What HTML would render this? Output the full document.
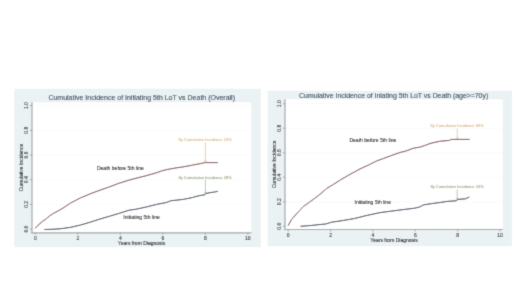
<!DOCTYPE html>
<html><head><meta charset="utf-8">
<style>
html,body{margin:0;padding:0;background:#fff;}
body{width:520px;height:292px;overflow:hidden;}
svg{display:block;font-family:"Liberation Sans",sans-serif;}
</style></head>
<body>
<svg width="520" height="292" viewBox="0 0 520 292">
<defs><filter id="soft" x="0" y="0" width="520" height="292" filterUnits="userSpaceOnUse"><feConvolveMatrix order="3" kernelMatrix="0.0192 0.1001 0.0192 0.1001 0.5227 0.1001 0.0192 0.1001 0.0192" preserveAlpha="false" edgeMode="duplicate"/></filter></defs>
<g filter="url(#soft)">
<rect x="0" y="0" width="520" height="292" fill="#ffffff"/>
<rect x="14.3" y="88.8" width="246.50" height="158.30" fill="#eaf2f3"/>
<rect x="32.0" y="102.3" width="219.40" height="130.50" fill="#ffffff"/>
<g stroke="#f0f4f5" stroke-width="0.5">
<line x1="32.0" y1="204.40" x2="251.4" y2="204.40"/>
<line x1="32.0" y1="179.70" x2="251.4" y2="179.70"/>
<line x1="32.0" y1="155.00" x2="251.4" y2="155.00"/>
<line x1="32.0" y1="130.30" x2="251.4" y2="130.30"/>
<line x1="32.0" y1="105.60" x2="251.4" y2="105.60"/>
</g>
<g stroke="#a2a6a8" stroke-width="1.2">
<line x1="32.0" y1="102.3" x2="32.0" y2="233.4"/>
<line x1="31.4" y1="232.8" x2="251.4" y2="232.8"/>
</g>
<g stroke="#8a8e90" stroke-width="0.7">
<line x1="30.0" y1="229.10" x2="32.0" y2="229.10"/>
<line x1="30.0" y1="204.40" x2="32.0" y2="204.40"/>
<line x1="30.0" y1="179.70" x2="32.0" y2="179.70"/>
<line x1="30.0" y1="155.00" x2="32.0" y2="155.00"/>
<line x1="30.0" y1="130.30" x2="32.0" y2="130.30"/>
<line x1="30.0" y1="105.60" x2="32.0" y2="105.60"/>
<line x1="35.30" y1="232.8" x2="35.30" y2="234.8"/>
<line x1="77.80" y1="232.8" x2="77.80" y2="234.8"/>
<line x1="120.30" y1="232.8" x2="120.30" y2="234.8"/>
<line x1="162.80" y1="232.8" x2="162.80" y2="234.8"/>
<line x1="205.30" y1="232.8" x2="205.30" y2="234.8"/>
<line x1="247.80" y1="232.8" x2="247.80" y2="234.8"/>
</g>
<text transform="translate(28.0,229.10) rotate(-90)" font-size="5.0" fill="#222222" stroke="#222222" stroke-width="0.1" text-anchor="middle">0.0</text>
<text transform="translate(28.0,204.40) rotate(-90)" font-size="5.0" fill="#222222" stroke="#222222" stroke-width="0.1" text-anchor="middle">0.2</text>
<text transform="translate(28.0,179.70) rotate(-90)" font-size="5.0" fill="#222222" stroke="#222222" stroke-width="0.1" text-anchor="middle">0.4</text>
<text transform="translate(28.0,155.00) rotate(-90)" font-size="5.0" fill="#222222" stroke="#222222" stroke-width="0.1" text-anchor="middle">0.6</text>
<text transform="translate(28.0,130.30) rotate(-90)" font-size="5.0" fill="#222222" stroke="#222222" stroke-width="0.1" text-anchor="middle">0.8</text>
<text transform="translate(28.0,105.60) rotate(-90)" font-size="5.0" fill="#222222" stroke="#222222" stroke-width="0.1" text-anchor="middle">1.0</text>
<text x="35.30" y="240.3" font-size="5.0" fill="#222222" stroke="#222222" stroke-width="0.1" text-anchor="middle">0</text>
<text x="77.80" y="240.3" font-size="5.0" fill="#222222" stroke="#222222" stroke-width="0.1" text-anchor="middle">2</text>
<text x="120.30" y="240.3" font-size="5.0" fill="#222222" stroke="#222222" stroke-width="0.1" text-anchor="middle">4</text>
<text x="162.80" y="240.3" font-size="5.0" fill="#222222" stroke="#222222" stroke-width="0.1" text-anchor="middle">6</text>
<text x="205.30" y="240.3" font-size="5.0" fill="#222222" stroke="#222222" stroke-width="0.1" text-anchor="middle">8</text>
<text x="247.80" y="240.3" font-size="5.0" fill="#222222" stroke="#222222" stroke-width="0.1" text-anchor="middle">10</text>
<text x="141.7" y="100.3" font-size="7.0" fill="#263a50" stroke="#263a50" stroke-width="0.08" text-anchor="middle">Cumulative Incidence of Initiating 5th LoT vs Death (Overall)</text>
<text transform="translate(23.4,167.5) rotate(-90)" font-size="5.0" fill="#222222" stroke="#222222" stroke-width="0.1" text-anchor="middle">Cumulative Incidence</text>
<text x="141.5" y="245.3" font-size="5.0" fill="#222222" stroke="#222222" stroke-width="0.1" text-anchor="middle">Years from Diagnosis</text>
<polyline fill="none" stroke="#70303a" stroke-width="1.0" stroke-linejoin="round" points="35.10,228.30 38.10,225.20 42.20,221.60 46.40,218.70 49.40,216.00 53.60,213.30 58.70,210.60 63.00,208.10 70.30,203.20 80.60,197.80 90.80,193.60 98.00,190.90 108.30,187.30 118.60,183.40 128.80,180.20 137.00,178.00 146.30,175.70 156.60,172.70 161.70,170.90 166.80,169.60 176.00,167.90 183.20,166.90 192.50,165.10 201.70,163.40 204.60,162.60 205.40,162.60 217.90,162.60"/>
<polyline fill="none" stroke="#223046" stroke-width="1.0" stroke-linejoin="round" points="44.30,229.50 52.00,229.30 60.00,228.80 70.30,227.40 80.60,225.00 90.80,222.00 99.00,219.30 108.30,216.60 118.60,213.50 128.80,210.30 136.00,209.20 146.30,207.00 156.60,204.40 166.80,202.40 170.90,200.70 176.00,200.20 183.20,199.40 192.50,197.50 197.10,196.20 201.70,195.20 204.80,194.80 205.90,193.50 210.90,192.50 214.60,192.00 217.90,191.30"/>
<text x="120.35" y="169.9" font-size="5.05" fill="#111111" stroke="#111111" stroke-width="0.07" text-anchor="middle">Death before 5th line</text>
<text x="141.6" y="218.9" font-size="5.05" fill="#111111" stroke="#111111" stroke-width="0.07" text-anchor="middle">Initiating 5th line</text>
<text x="205.1" y="141.2" font-size="4.06" fill="#cc9c5c" text-anchor="middle">8y Cumulative Incidence 53%</text>
<line x1="205.4" y1="142.6" x2="205.4" y2="161.9" stroke="#cc9c5c" stroke-width="0.5"/>
<path d="M204.4,160.5 L205.4,161.9 L206.4,160.5" fill="none" stroke="#cc9c5c" stroke-width="0.5"/>
<text x="205.1" y="178.5" font-size="4.06" fill="#718a58" text-anchor="middle">8y Cumulative Incidence 28%</text>
<line x1="205.4" y1="179.7" x2="205.4" y2="193.5" stroke="#718a58" stroke-width="0.5"/>
<path d="M204.4,192.1 L205.4,193.5 L206.4,192.1" fill="none" stroke="#718a58" stroke-width="0.5"/>
<rect x="267.6" y="90.8" width="244.30" height="155.40" fill="#eaf2f3"/>
<rect x="285.0" y="99.2" width="217.80" height="130.30" fill="#ffffff"/>
<g stroke="#f0f4f5" stroke-width="0.5">
<line x1="285.0" y1="201.75" x2="502.8" y2="201.75"/>
<line x1="285.0" y1="177.25" x2="502.8" y2="177.25"/>
<line x1="285.0" y1="152.75" x2="502.8" y2="152.75"/>
<line x1="285.0" y1="128.25" x2="502.8" y2="128.25"/>
<line x1="285.0" y1="103.75" x2="502.8" y2="103.75"/>
</g>
<g stroke="#a2a6a8" stroke-width="1.2">
<line x1="285.0" y1="99.2" x2="285.0" y2="230.1"/>
<line x1="284.4" y1="229.5" x2="502.8" y2="229.5"/>
</g>
<g stroke="#8a8e90" stroke-width="0.7">
<line x1="283.0" y1="226.25" x2="285.0" y2="226.25"/>
<line x1="283.0" y1="201.75" x2="285.0" y2="201.75"/>
<line x1="283.0" y1="177.25" x2="285.0" y2="177.25"/>
<line x1="283.0" y1="152.75" x2="285.0" y2="152.75"/>
<line x1="283.0" y1="128.25" x2="285.0" y2="128.25"/>
<line x1="283.0" y1="103.75" x2="285.0" y2="103.75"/>
<line x1="288.20" y1="229.5" x2="288.20" y2="231.5"/>
<line x1="330.56" y1="229.5" x2="330.56" y2="231.5"/>
<line x1="372.92" y1="229.5" x2="372.92" y2="231.5"/>
<line x1="415.28" y1="229.5" x2="415.28" y2="231.5"/>
<line x1="457.64" y1="229.5" x2="457.64" y2="231.5"/>
<line x1="500.00" y1="229.5" x2="500.00" y2="231.5"/>
</g>
<text transform="translate(280.6,226.25) rotate(-90)" font-size="5.0" fill="#222222" stroke="#222222" stroke-width="0.1" text-anchor="middle">0.0</text>
<text transform="translate(280.6,201.75) rotate(-90)" font-size="5.0" fill="#222222" stroke="#222222" stroke-width="0.1" text-anchor="middle">0.2</text>
<text transform="translate(280.6,177.25) rotate(-90)" font-size="5.0" fill="#222222" stroke="#222222" stroke-width="0.1" text-anchor="middle">0.4</text>
<text transform="translate(280.6,152.75) rotate(-90)" font-size="5.0" fill="#222222" stroke="#222222" stroke-width="0.1" text-anchor="middle">0.6</text>
<text transform="translate(280.6,128.25) rotate(-90)" font-size="5.0" fill="#222222" stroke="#222222" stroke-width="0.1" text-anchor="middle">0.8</text>
<text transform="translate(280.6,103.75) rotate(-90)" font-size="5.0" fill="#222222" stroke="#222222" stroke-width="0.1" text-anchor="middle">1.0</text>
<text x="288.20" y="237.3" font-size="5.0" fill="#222222" stroke="#222222" stroke-width="0.1" text-anchor="middle">0</text>
<text x="330.56" y="237.3" font-size="5.0" fill="#222222" stroke="#222222" stroke-width="0.1" text-anchor="middle">2</text>
<text x="372.92" y="237.3" font-size="5.0" fill="#222222" stroke="#222222" stroke-width="0.1" text-anchor="middle">4</text>
<text x="415.28" y="237.3" font-size="5.0" fill="#222222" stroke="#222222" stroke-width="0.1" text-anchor="middle">6</text>
<text x="457.64" y="237.3" font-size="5.0" fill="#222222" stroke="#222222" stroke-width="0.1" text-anchor="middle">8</text>
<text x="500.00" y="237.3" font-size="5.0" fill="#222222" stroke="#222222" stroke-width="0.1" text-anchor="middle">10</text>
<text x="393.65" y="97.7" font-size="6.9" fill="#263a50" stroke="#263a50" stroke-width="0.08" text-anchor="middle">Cumulative Incidence of Iniating 5th LoT vs Death (age&gt;=70y)</text>
<text transform="translate(275.6,164.3) rotate(-90)" font-size="5.0" fill="#222222" stroke="#222222" stroke-width="0.1" text-anchor="middle">Cumulative Incidence</text>
<text x="394" y="241.9" font-size="5.0" fill="#222222" stroke="#222222" stroke-width="0.1" text-anchor="middle">Years from Diagnosis</text>
<polyline fill="none" stroke="#70303a" stroke-width="1.0" stroke-linejoin="round" points="288.10,225.70 291.50,219.50 296.30,214.00 299.70,210.50 303.10,206.70 309.30,202.30 316.10,197.30 320.00,194.30 326.80,188.40 333.70,184.20 340.50,179.90 347.40,175.80 354.20,172.10 360.00,168.90 362.80,167.60 369.70,164.50 376.50,161.00 383.40,158.50 390.30,155.90 400.60,152.30 405.00,151.30 413.20,148.30 420.40,147.00 425.60,145.20 430.00,143.50 435.00,142.30 440.30,141.20 449.50,140.40 451.10,139.40 469.60,139.40"/>
<polyline fill="none" stroke="#223046" stroke-width="1.0" stroke-linejoin="round" points="300.40,226.30 310.00,225.60 320.00,224.50 325.80,224.00 331.50,222.20 343.10,220.50 354.60,218.50 366.10,215.60 380.00,212.60 391.50,211.10 403.10,209.60 414.60,208.20 419.20,207.10 423.80,204.80 431.90,203.60 440.00,202.50 448.10,201.30 456.10,200.80 457.90,199.40 465.40,198.80 468.30,197.50 469.40,197.00"/>
<text x="372.85" y="142.1" font-size="5.05" fill="#111111" stroke="#111111" stroke-width="0.07" text-anchor="middle">Death before 5th line</text>
<text x="372.75" y="203.8" font-size="5.05" fill="#111111" stroke="#111111" stroke-width="0.07" text-anchor="middle">Initiating 5th line</text>
<text x="457.2" y="127.1" font-size="4.06" fill="#cc9c5c" text-anchor="middle">8y Cumulative Incidence 69%</text>
<line x1="457.25" y1="128.6" x2="457.25" y2="138.9" stroke="#cc9c5c" stroke-width="0.5"/>
<path d="M456.25,137.5 L457.25,138.9 L458.25,137.5" fill="none" stroke="#cc9c5c" stroke-width="0.5"/>
<text x="457.1" y="187.6" font-size="4.06" fill="#718a58" text-anchor="middle">8y Cumulative Incidence 20%</text>
<line x1="457.2" y1="189.6" x2="457.2" y2="199.6" stroke="#718a58" stroke-width="0.5"/>
<path d="M456.2,198.2 L457.2,199.6 L458.2,198.2" fill="none" stroke="#718a58" stroke-width="0.5"/>
</g>
</svg>
</body></html>
